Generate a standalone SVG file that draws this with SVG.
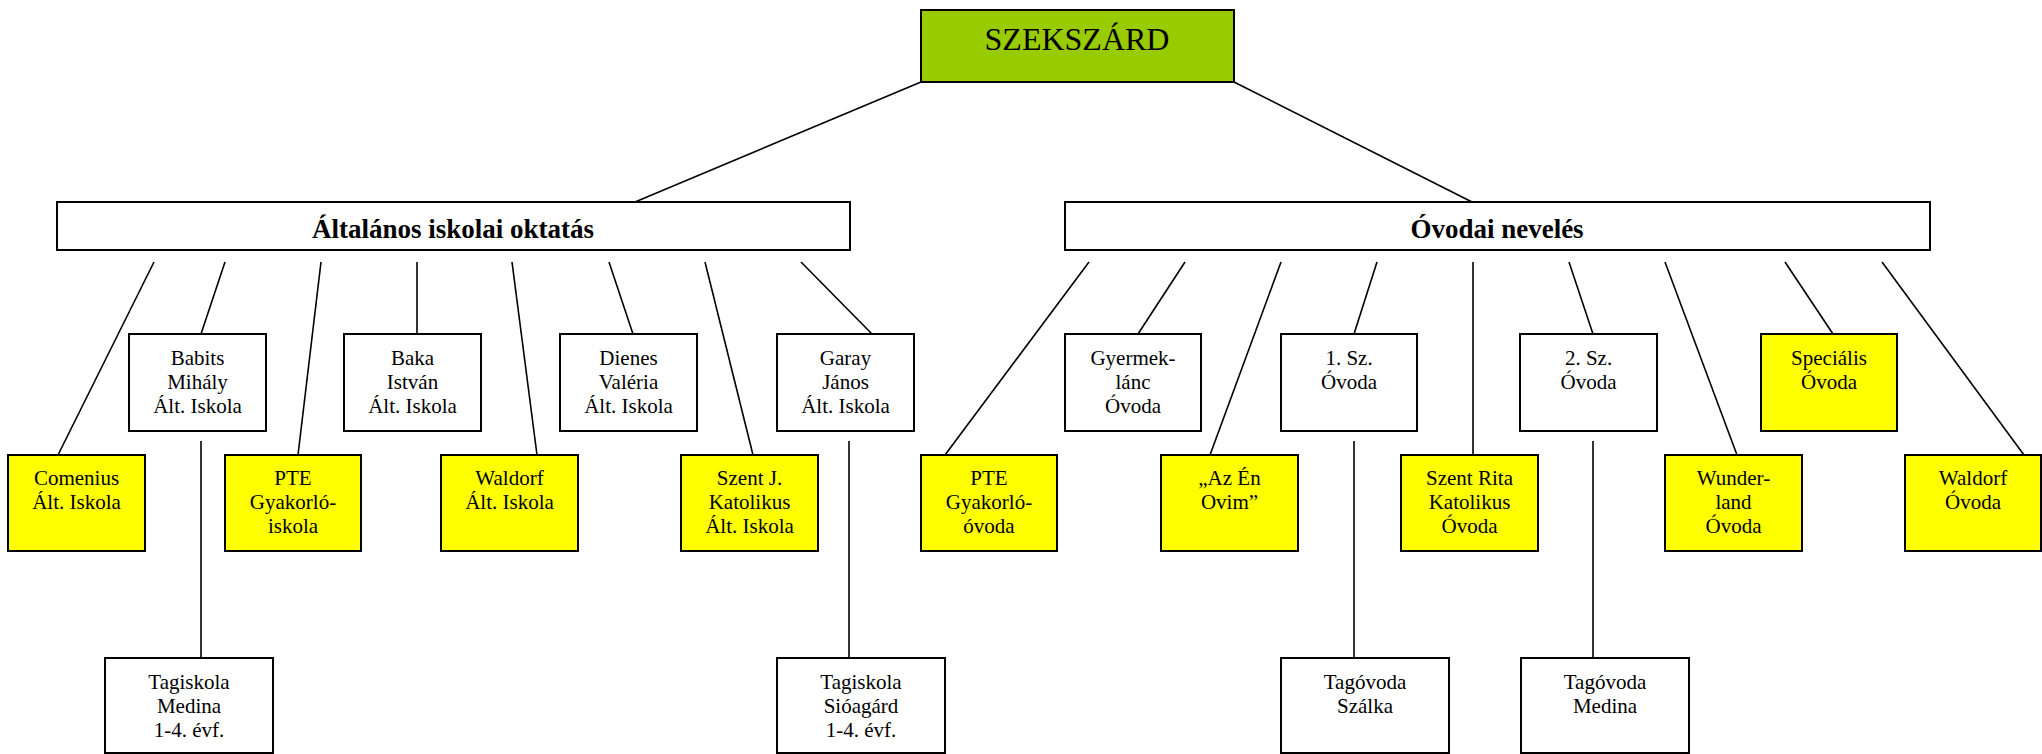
<svg xmlns="http://www.w3.org/2000/svg" width="2042" height="754" viewBox="0 0 2042 754">
<style>
.box{stroke:#000;stroke-width:2;fill:#fff}
.y{fill:#ffff00}
.g{fill:#99cc00}
.t{font-family:"Liberation Serif","Times New Roman",serif;font-size:21px;text-anchor:middle;fill:#000}
.h{font-family:"Liberation Serif","Times New Roman",serif;font-size:27px;font-weight:bold;text-anchor:middle;fill:#000}
.r{font-family:"Liberation Serif","Times New Roman",serif;font-size:32px;text-anchor:middle;fill:#000}
#connectors line{stroke:#000;stroke-width:1.6}
</style>
<rect width="2042" height="754" fill="#fff"/>
<g id="connectors">
<line x1="921" y1="82" x2="635" y2="202"/>
<line x1="1234" y1="82" x2="1472" y2="202"/>
<line x1="154" y1="262" x2="58" y2="455"/>
<line x1="225" y1="262" x2="201" y2="334"/>
<line x1="321" y1="262" x2="298" y2="455"/>
<line x1="417" y1="262" x2="417" y2="334"/>
<line x1="512" y1="262" x2="537" y2="455"/>
<line x1="609" y1="262" x2="633" y2="334"/>
<line x1="705" y1="262" x2="753" y2="455"/>
<line x1="801" y1="262" x2="872" y2="334"/>
<line x1="1089" y1="262" x2="945" y2="455"/>
<line x1="1185" y1="262" x2="1138" y2="334"/>
<line x1="1281" y1="262" x2="1210" y2="455"/>
<line x1="1377" y1="262" x2="1354" y2="334"/>
<line x1="1473" y1="262" x2="1473" y2="455"/>
<line x1="1569" y1="262" x2="1593" y2="334"/>
<line x1="1665" y1="262" x2="1737" y2="455"/>
<line x1="1785" y1="262" x2="1833" y2="334"/>
<line x1="1882" y1="262" x2="2024" y2="455"/>
<line x1="201" y1="441" x2="201" y2="658"/>
<line x1="849" y1="441" x2="849" y2="658"/>
<line x1="1354" y1="441" x2="1354" y2="658"/>
<line x1="1593" y1="441" x2="1593" y2="658"/>
</g>
<g id="root"><rect class="box g" x="921" y="10" width="313" height="72"/><text class="r" x="1077" y="50">SZEKSZÁRD</text></g>
<g id="altalanos"><rect class="box" x="57" y="202" width="793" height="48"/><text class="h" x="453" y="237.5">Általános iskolai oktatás</text></g>
<g id="ovodai"><rect class="box" x="1065" y="202" width="865" height="48"/><text class="h" x="1497" y="237.5">Óvodai nevelés</text></g>

<g id="babits"><rect class="box" x="129" y="334" width="137" height="97"/><text class="t" x="197.5" y="365">Babits</text><text class="t" x="197.5" y="389">Mihály</text><text class="t" x="197.5" y="413">Ált. Iskola</text></g>
<g id="baka"><rect class="box" x="344" y="334" width="137" height="97"/><text class="t" x="412.5" y="365">Baka</text><text class="t" x="412.5" y="389">István</text><text class="t" x="412.5" y="413">Ált. Iskola</text></g>
<g id="dienes"><rect class="box" x="560" y="334" width="137" height="97"/><text class="t" x="628.5" y="365">Dienes</text><text class="t" x="628.5" y="389">Valéria</text><text class="t" x="628.5" y="413">Ált. Iskola</text></g>
<g id="garay"><rect class="box" x="777" y="334" width="137" height="97"/><text class="t" x="845.5" y="365">Garay</text><text class="t" x="845.5" y="389">János</text><text class="t" x="845.5" y="413">Ált. Iskola</text></g>
<g id="gyermeklanc"><rect class="box" x="1065" y="334" width="136" height="97"/><text class="t" x="1133" y="365">Gyermek-</text><text class="t" x="1133" y="389">lánc</text><text class="t" x="1133" y="413">Óvoda</text></g>
<g id="ovoda1"><rect class="box" x="1281" y="334" width="136" height="97"/><text class="t" x="1349" y="365">1. Sz.</text><text class="t" x="1349" y="389">Óvoda</text></g>
<g id="ovoda2"><rect class="box" x="1520" y="334" width="137" height="97"/><text class="t" x="1588.5" y="365">2. Sz.</text><text class="t" x="1588.5" y="389">Óvoda</text></g>
<g id="specialis"><rect class="box y" x="1761" y="334" width="136" height="97"/><text class="t" x="1829" y="365">Speciális</text><text class="t" x="1829" y="389">Óvoda</text></g>

<g id="comenius"><rect class="box y" x="8" y="455" width="137" height="96"/><text class="t" x="76.5" y="485">Comenius</text><text class="t" x="76.5" y="509">Ált. Iskola</text></g>
<g id="pte-iskola"><rect class="box y" x="225" y="455" width="136" height="96"/><text class="t" x="293" y="485">PTE</text><text class="t" x="293" y="509">Gyakorló-</text><text class="t" x="293" y="533">iskola</text></g>
<g id="waldorf-iskola"><rect class="box y" x="441" y="455" width="137" height="96"/><text class="t" x="509.5" y="485">Waldorf</text><text class="t" x="509.5" y="509">Ált. Iskola</text></g>
<g id="szentj"><rect class="box y" x="681" y="455" width="137" height="96"/><text class="t" x="749.5" y="485">Szent J.</text><text class="t" x="749.5" y="509">Katolikus</text><text class="t" x="749.5" y="533">Ált. Iskola</text></g>
<g id="pte-ovoda"><rect class="box y" x="921" y="455" width="136" height="96"/><text class="t" x="989" y="485">PTE</text><text class="t" x="989" y="509">Gyakorló-</text><text class="t" x="989" y="533">óvoda</text></g>
<g id="azenovim"><rect class="box y" x="1161" y="455" width="137" height="96"/><text class="t" x="1229.5" y="485">„Az Én</text><text class="t" x="1229.5" y="509">Ovim”</text></g>
<g id="szentrita"><rect class="box y" x="1401" y="455" width="137" height="96"/><text class="t" x="1469.5" y="485">Szent Rita</text><text class="t" x="1469.5" y="509">Katolikus</text><text class="t" x="1469.5" y="533">Óvoda</text></g>
<g id="wunderland"><rect class="box y" x="1665" y="455" width="137" height="96"/><text class="t" x="1733.5" y="485">Wunder-</text><text class="t" x="1733.5" y="509">land</text><text class="t" x="1733.5" y="533">Óvoda</text></g>
<g id="waldorf-ovoda"><rect class="box y" x="1905" y="455" width="136" height="96"/><text class="t" x="1973" y="485">Waldorf</text><text class="t" x="1973" y="509">Óvoda</text></g>

<g id="tag-medina"><rect class="box" x="105" y="658" width="168" height="95"/><text class="t" x="189" y="689">Tagiskola</text><text class="t" x="189" y="713">Medina</text><text class="t" x="189" y="737">1-4. évf.</text></g>
<g id="tag-sioagard"><rect class="box" x="777" y="658" width="168" height="95"/><text class="t" x="861" y="689">Tagiskola</text><text class="t" x="861" y="713">Sióagárd</text><text class="t" x="861" y="737">1-4. évf.</text></g>
<g id="tagovoda-szalka"><rect class="box" x="1281" y="658" width="168" height="95"/><text class="t" x="1365" y="689">Tagóvoda</text><text class="t" x="1365" y="713">Szálka</text></g>
<g id="tagovoda-medina"><rect class="box" x="1521" y="658" width="168" height="95"/><text class="t" x="1605" y="689">Tagóvoda</text><text class="t" x="1605" y="713">Medina</text></g>
</svg>
